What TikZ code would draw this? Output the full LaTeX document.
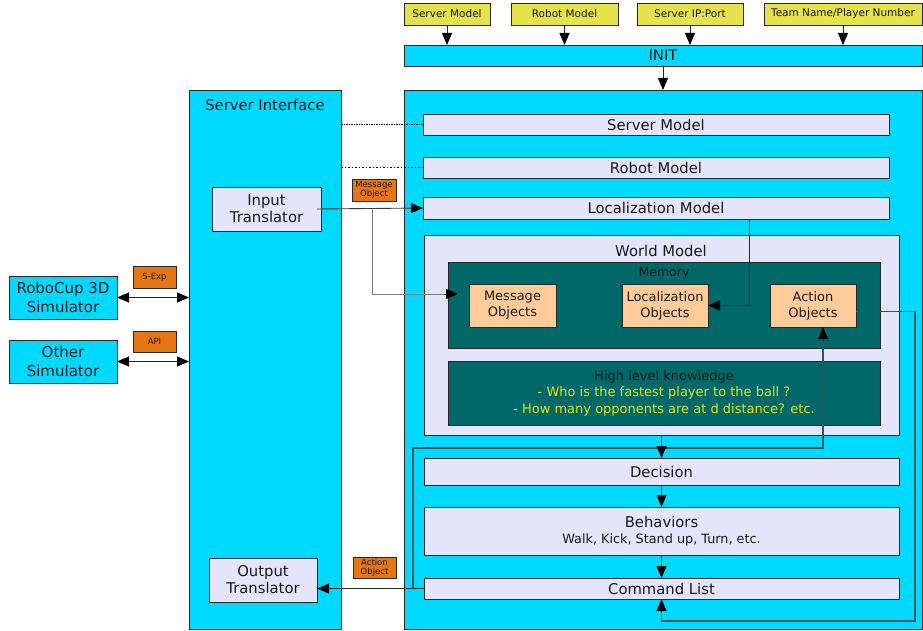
\documentclass[tikz,border=0pt]{standalone}
\usepackage{fontspec}
\setmainfont{DejaVu Sans}
\usetikzlibrary{arrows.meta}
\definecolor{cyanp}{RGB}{0,217,255}
\definecolor{lav}{RGB}{228,228,250}
\definecolor{tealb}{RGB}{0,104,104}
\definecolor{peach}{RGB}{255,204,153}
\definecolor{orng}{RGB}{230,118,20}
\definecolor{yel}{RGB}{230,226,76}
\definecolor{hlky}{RGB}{225,230,20}
\definecolor{linec}{RGB}{40,40,40}
\definecolor{txtc}{RGB}{25,25,25}
\definecolor{loopc}{RGB}{45,85,92}
\newcommand\fsMain{\fontsize{14.8}{17}\selectfont}
\newcommand\fsLeft{\fontsize{15}{19}\selectfont}
\newcommand\fsObj{\fontsize{13}{16}\selectfont}
\newcommand\fsTop{\fontsize{10.5}{12}\selectfont}
\newcommand\fsTiny{\fontsize{8.5}{9.5}\selectfont}
\newcommand\fsHlk{\fontsize{13}{16.5}\selectfont}
\tikzset{
  bx/.style={draw=linec, line width=0.8pt, inner sep=0pt, outer sep=0pt, anchor=north west, align=center, text=txtc},
  ttl/.style={inner sep=0pt, text=txtc, font=\fsMain},
  tip/.tip={Triangle[length=12pt,width=10pt,color=black]},
  arr/.style={draw=linec, line width=0.9pt, -tip},
  darr/.style={draw=linec, line width=0.9pt, tip-tip},
  lp/.style={draw=loopc, line width=1.1pt},
}
\begin{document}
\begin{tikzpicture}[x=1pt,y=-1pt]
\useasboundingbox (0,0) rectangle (923,631);
% panels
\node[bx, fill=cyanp, minimum width=152, minimum height=539] (srv) at (189,90) {};
\node[ttl] (srvT) at (265,105) {Server Interface};
\node[bx, fill=cyanp, minimum width=518, minimum height=539] (main) at (404,90) {};
% top inputs
\node[bx, fill=yel, minimum width=86, minimum height=22, font=\fsTop] (tSM) at (404,3) {Server Model};
\node[bx, fill=yel, minimum width=107, minimum height=22, font=\fsTop] (tRM) at (511,3) {Robot Model};
\node[bx, fill=yel, minimum width=106, minimum height=22, font=\fsTop] (tIP) at (637,3) {Server IP:Port};
\node[bx, fill=yel, minimum width=158, minimum height=22, font=\fsTop] (tTN) at (764,3) {Team Name/Player Number};
\node[bx, fill=cyanp, minimum width=518, minimum height=21, font=\fsMain] (init) at (404,45) {INIT};
% inner boxes
\node[bx, fill=lav, minimum width=466, minimum height=21, font=\fsMain] (smI) at (423,114) {Server Model};
\node[bx, fill=lav, minimum width=466, minimum height=21, font=\fsMain] (rmI) at (423,157) {Robot Model};
\node[bx, fill=lav, minimum width=466, minimum height=22, font=\fsMain] (lmI) at (423,197) {Localization Model};
\node[bx, fill=lav, minimum width=475, minimum height=200] (wm) at (424,235) {};
\node[ttl] (wmT) at (661,251) {World Model};
\node[bx, fill=tealb, minimum width=432, minimum height=86] (mem) at (448,262) {};
\node[ttl, font=\fontsize{12.5}{15}\selectfont] (memT) at (664,273) {Memory};
\node[bx, fill=peach, minimum width=87, minimum height=43, font=\fsObj] (msgO) at (469,284) {Message\\Objects};
\node[bx, fill=peach, minimum width=86, minimum height=43, font=\fsObj] (locO) at (622,284) {Localization\\Objects};
\node[bx, fill=peach, minimum width=86, minimum height=43, font=\fsObj] (actO) at (770,284) {Action\\Objects};
\node[bx, fill=tealb, minimum width=432, minimum height=64, font=\fsHlk] (hlk) at (448,361) {High level knowledge\\\textcolor{hlky}{- Who is the fastest player to the ball ?}\\\textcolor{hlky}{- How many opponents are at d distance? etc.}};
\node[bx, fill=lav, minimum width=475, minimum height=27, font=\fsMain] (dec) at (424,458) {Decision};
\node[bx, fill=lav, minimum width=475, minimum height=48, font=\fsMain] (beh) at (424,507) {Behaviors\\[-1pt]{\fontsize{12.8}{14}\selectfont Walk, Kick, Stand up, Turn, etc.}};
\node[bx, fill=lav, minimum width=475, minimum height=21, font=\fsMain] (cmd) at (424,578) {Command List};
% server interface
\node[bx, fill=lav, minimum width=109, minimum height=44, font=\fsMain] (inT) at (212,187) {Input\\Translator};
\node[bx, fill=lav, minimum width=108, minimum height=44, font=\fsMain] (outT) at (209,558) {Output\\Translator};
\node[bx, fill=orng, minimum width=44, minimum height=22, font=\fsTiny] (msgL) at (352,179) {Message\\Object};
\node[bx, fill=orng, minimum width=43, minimum height=21, font=\fsTiny] (actL) at (353,557) {Action\\Object};
% simulators
\node[bx, fill=cyanp, minimum width=108, minimum height=43, font=\fsLeft] (rcs) at (9,276) {RoboCup 3D\\Simulator};
\node[bx, fill=cyanp, minimum width=108, minimum height=43, font=\fsLeft] (oth) at (9,340) {Other\\Simulator};
\node[bx, fill=orng, minimum width=43, minimum height=22, font=\fsTiny] (sexp) at (133,266) {S-Exp};
\node[bx, fill=orng, minimum width=43, minimum height=21, font=\fsTiny] (api) at (133,331) {API};
% coordinates
\coordinate (br) at (372,208);
\coordinate (memIn) at (458,294);
\coordinate (lmx) at (749,219);
\coordinate (rl) at (915,621);
\coordinate (lpc) at (413,448);
\coordinate (ax) at (823,448);
% connectors
\foreach \n in {tSM,tRM,tIP,tTN}{\draw[arr] (\n.south) -- (\n.south |- init.north);}
\draw[arr] (init.south) -- (main.north);
\draw[darr] (rcs.east) -- (rcs.east -| srv.west);
\draw[darr] (oth.east) -- (oth.east -| srv.west);
\draw[line width=1.2pt, dash pattern=on 1.5pt off 1pt] (smI.west -| srv.east) -- (smI.west);
\draw[line width=0.9pt, dash pattern=on 1.5pt off 2pt] (rmI.west -| srv.east) -- (rmI.west);
\draw[draw=gray, line width=1pt] (br) |- (memIn);
\draw[arr, draw=linec!80!gray] ([xshift=-4pt]inT.east) -- (lmI.west);
\draw[arr] ([xshift=-14pt]memIn) -- (memIn);
\draw[arr] (lmx) |- (locO.east);
\draw[lp] ([yshift=-6pt]actO.east) -| (rl) -| ([yshift=-12pt]cmd.south);
\draw[arr] ([yshift=-12pt]cmd.south) -- (cmd.south);
\draw[lp] (cmd.west) -- (cmd.west -| lpc) -- (lpc) -- (ax) -- ([yshift=-14pt]ax |- actO.south);
\draw[arr] ([yshift=-14pt]ax |- actO.south) -- (ax |- actO.south);
\draw[arr] (wm.south) -- (dec.north);
\draw[arr] (dec.south) -- (beh.north);
\draw[arr] (beh.south) -- (cmd.north);
\draw[arr] (cmd.west) -- (cmd.west -| outT.east);
\end{tikzpicture}
\end{document}
